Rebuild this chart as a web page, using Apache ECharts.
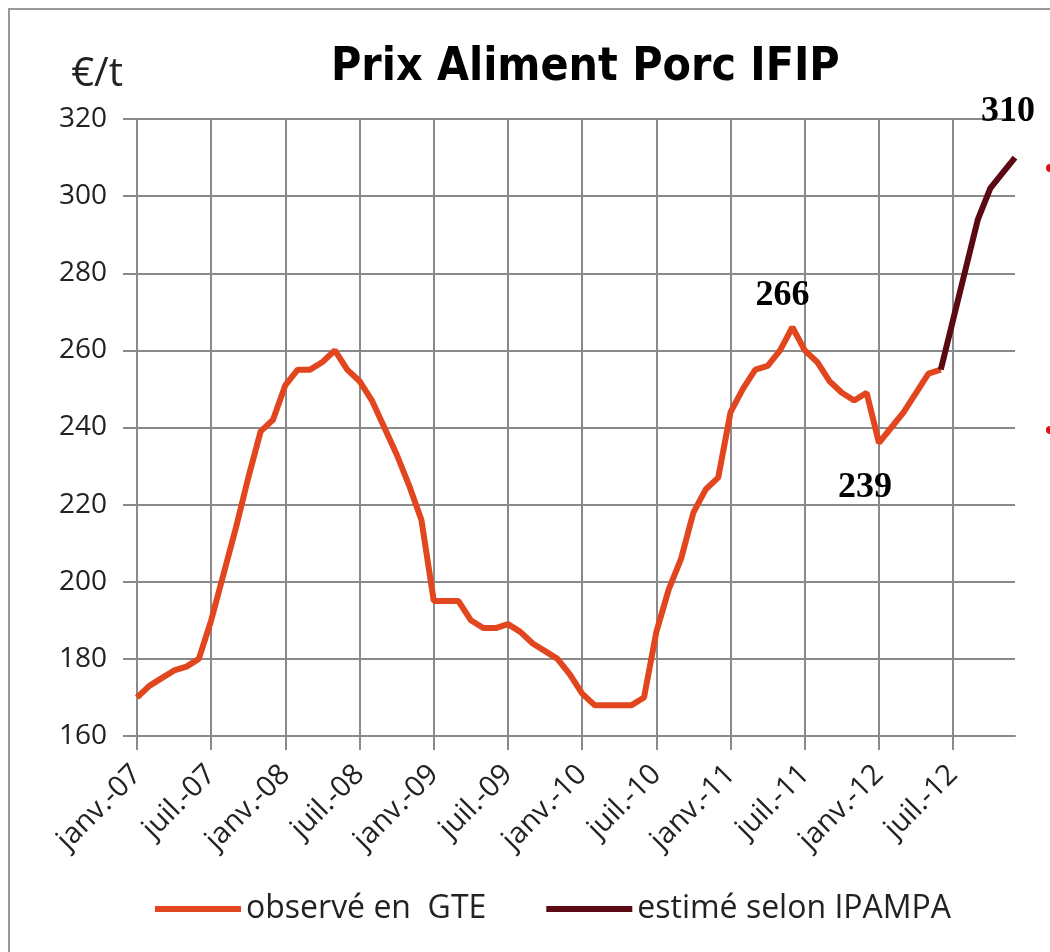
<!DOCTYPE html>
<html>
<head>
<meta charset="utf-8">
<script src="https://cdn.jsdelivr.net/npm/echarts@6/dist/echarts.min.js"></script>
<style>
html, body { margin: 0; padding: 0; background: #fff; }
#chart { width: 1050px; height: 952px; }
</style>
</head>
<body>
<div id="chart"></div>
<script>
// mois de janv.-07 à déc.-12
const monthNames = ['janv.', 'févr.', 'mars', 'avr.', 'mai', 'juin', 'juil.', 'août', 'sept.', 'oct.', 'nov.', 'déc.'];
const years = ['07', '08', '09', '10', '11', '12'];
const categories = [];
years.forEach(y => monthNames.forEach(m => categories.push(m + '-' + y)));

// prix observé en GTE (€/t)
const observed = [
    170, 173, 175, 177, 178, 180, 190, 202, 214, 227, 239, 242,
    251, 255, 255, 257, 260, 255, 252, 247, 240, 233, 225, 216,
    195, 195, 195, 190, 188, 188, 189, 187, 184, 182, 180, 176,
    171, 168, 168, 168, 168, 170, 187, 198, 206, 218, 224, 227,
    244, 250, 255, 256, 260, 266, 260, 257, 252, 249, 247, 249,
    236, 240, 244, 249, 254, 255, null, null, null, null, null, null
];
// estimé selon IPAMPA
const estimated = [
    null, null, null, null, null, null, null, null, null, null, null, null,
    null, null, null, null, null, null, null, null, null, null, null, null,
    null, null, null, null, null, null, null, null, null, null, null, null,
    null, null, null, null, null, null, null, null, null, null, null, null,
    null, null, null, null, null, null, null, null, null, null, null, null,
    null, null, null, null, null, 255, 268, 281, 294, 302, 306, 310
];

const gridColor = '#8a8a8a';
const font = 'Open Sans';

// étiquettes des points remarquables
function annot(text, ox, oy) {
    return { formatter: text, offset: [ox, oy] };
}
const annotStyle = {
    show: true,
    position: 'inside',
    fontFamily: 'Liberation Serif',
    fontWeight: 'bold',
    fontSize: 36,
    color: '#000'
};

const myChart = echarts.init(document.getElementById('chart'));
const option = {
    backgroundColor: '#fff',
    title: {
        text: 'Prix Aliment Porc IFIP',
        left: 326,
        top: 40,
        textStyle: {
            fontFamily: 'DejaVu Sans Condensed',
            fontSize: 46,
            fontWeight: 'bold',
            color: '#000'
        }
    },
    grid: { left: 137, right: 35, top: 119, bottom: 216 },
    legend: {
        left: 155,
        top: 893,
        padding: 0,
        icon: 'rect',
        itemWidth: 86,
        itemHeight: 6,
        itemGap: 60,
        textStyle: { fontFamily: font, fontSize: 32, color: '#222' },
        data: ['observé en  GTE', 'estimé selon IPAMPA']
    },
    xAxis: {
        type: 'category',
        boundaryGap: false,
        data: categories,
        axisLine: { lineStyle: { color: gridColor, width: 2 } },
        axisTick: { interval: 5, length: 14, lineStyle: { color: gridColor, width: 2 } },
        splitLine: { show: true, interval: 5, lineStyle: { color: gridColor, width: 2 } },
        axisLabel: {
            interval: 5,
            rotate: 45,
            margin: 34,
            fontFamily: font,
            fontSize: 29,
            color: '#222'
        }
    },
    yAxis: {
        type: 'value',
        min: 160,
        max: 320,
        interval: 20,
        name: '€/t',
        nameGap: 24,
        nameTextStyle: { fontFamily: font, fontSize: 40, color: '#222', align: 'right', padding: [0, 14, 0, 0] },
        axisLine: { show: true, lineStyle: { color: gridColor, width: 2 } },
        axisTick: { show: true, length: 14, lineStyle: { color: gridColor, width: 2 } },
        splitLine: { lineStyle: { color: gridColor, width: 2 } },
        axisLabel: { fontFamily: font, fontSize: 28, color: '#222', margin: 30 }
    },
    series: [
        {
            name: 'observé en  GTE',
            type: 'line',
            data: observed,
            symbol: 'none',
            color: '#E2461F',
            lineStyle: { width: 6, color: '#E2461F' },
            markPoint: {
                symbol: 'circle',
                symbolSize: 1,
                itemStyle: { color: 'transparent' },
                label: annotStyle,
                data: [
                    { coord: [53, 266], label: annot('266', -10, -32) },
                    { coord: [60, 236], label: annot('239', -14, 45) }
                ]
            }
        },
        {
            name: 'estimé selon IPAMPA',
            type: 'line',
            data: estimated,
            symbol: 'none',
            color: '#5A0A12',
            lineStyle: { width: 6, color: '#5A0A12' },
            markPoint: {
                symbol: 'circle',
                symbolSize: 1,
                itemStyle: { color: 'transparent' },
                label: annotStyle,
                data: [
                    { coord: [71, 310], label: annot('310', -7, -46) }
                ]
            }
        }
    ],
    graphic: [
        {
            type: 'rect',
            shape: { x: 9, y: 9, width: 1060, height: 960 },
            style: { fill: 'none', stroke: '#9a9a9a', lineWidth: 2 }
        },
        { type: 'circle', shape: { cx: 1050, cy: 168, r: 4 }, style: { fill: '#e01010' } },
        { type: 'circle', shape: { cx: 1050, cy: 430, r: 4 }, style: { fill: '#e01010' } }
    ]
};

myChart && myChart.setOption(option);
</script>
</body>
</html>
